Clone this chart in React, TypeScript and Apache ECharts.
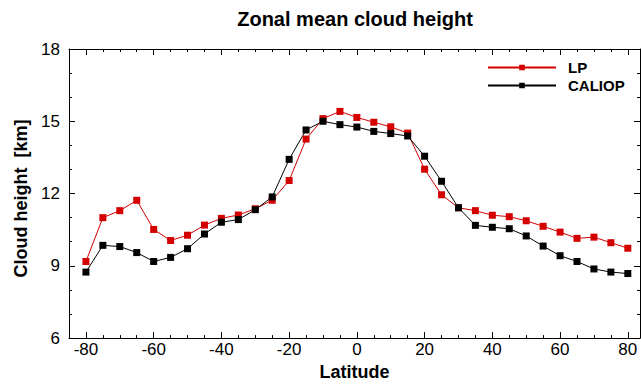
import React, { useEffect, useRef } from "react";
import * as echarts from "echarts";

const latitudes = [-80, -75, -70, -65, -60, -55, -50, -45, -40, -35, -30, -25, -20, -15, -10, -5, 0, 5, 10, 15, 20, 25, 30, 35, 40, 45, 50, 55, 60, 65, 70, 75, 80];
const lpValues = [9.18, 11.0, 11.29, 11.72, 10.51, 10.05, 10.27, 10.69, 10.97, 11.11, 11.37, 11.72, 12.54, 14.26, 15.11, 15.41, 15.16, 14.96, 14.77, 14.51, 13.01, 11.95, 11.41, 11.29, 11.1, 11.04, 10.87, 10.64, 10.4, 10.14, 10.19, 9.96, 9.73];
const caliopValues = [8.74, 9.85, 9.8, 9.55, 9.18, 9.35, 9.71, 10.32, 10.81, 10.92, 11.33, 11.86, 13.42, 14.64, 15.0, 14.86, 14.76, 14.58, 14.49, 14.39, 13.55, 12.51, 11.41, 10.68, 10.6, 10.54, 10.24, 9.82, 9.42, 9.18, 8.87, 8.74, 8.68];
const xMajorTicks = [-80, -60, -40, -20, 0, 20, 40, 60, 80];
const xMinorTicks = [-75, -70, -65, -55, -50, -45, -35, -30, -25, -15, -10, -5, 5, 10, 15, 25, 30, 35, 45, 50, 55, 65, 70, 75];

const FONT = "'Liberation Sans', Arial, sans-serif";
const X_MIN = -85;
const X_MAX = 83.6;

export default function App() {
  const ref = useRef<HTMLDivElement>(null);
  useEffect(() => {
    document.body.style.margin = "0";
    if (!ref.current) return;
    const chart = echarts.init(ref.current, undefined, { renderer: "svg" });
    const baseX = (position: string, ticks: number[], len: number, showLabel: boolean, showLine: boolean) => ({
      type: "value",
      position,
      min: X_MIN,
      max: X_MAX,
      axisLine: { show: showLine, onZero: false, lineStyle: { color: "#000", width: 1 } },
      axisTick: { show: true, inside: true, length: len, customValues: ticks, lineStyle: { color: "#000", width: 1 } },
      axisLabel: showLabel
        ? { show: true, customValues: ticks, color: "#000", fontSize: 17, fontFamily: FONT, margin: 3 }
        : { show: false },
      splitLine: { show: false },
    });
    const baseY = (position: string, showLabel: boolean) => ({
      type: "value",
      position,
      min: 6,
      max: 18,
      interval: 3,
      axisLine: { show: true, onZero: false, lineStyle: { color: "#000", width: 1 } },
      axisTick: { show: true, inside: true, length: 6, lineStyle: { color: "#000", width: 1 } },
      minorTick: { show: true, splitNumber: 3, length: 3, lineStyle: { color: "#000", width: 1 } },
      axisLabel: showLabel
        ? { show: true, color: "#000", fontSize: 17, fontFamily: FONT, margin: 9 }
        : { show: false },
      splitLine: { show: false },
    });
    const option: any = {
      animation: false,
      backgroundColor: "#fff",
      title: {
        text: "Zonal mean cloud height",
        left: 350,
        textAlign: "center",
        top: 4,
        textStyle: { fontSize: 20, fontWeight: "bold", fontFamily: FONT, color: "#000" },
      },
      legend: {
        orient: "vertical",
        left: 487,
        top: 60,
        itemWidth: 68,
        itemHeight: 7,
        itemGap: 3,
        padding: 0,
        textStyle: { fontSize: 15, fontWeight: "bold", fontFamily: FONT, color: "#000", padding: [0, 0, 0, 7] },
        data: ["LP", "CALIOP"],
      },
      grid: { left: 69, right: 1, top: 49, bottom: 42, containLabel: false },
      xAxis: [
        {
          ...baseX("bottom", xMajorTicks, 6, true, true),
          name: "Latitude",
          nameLocation: "middle",
          nameGap: 19,
          nameTextStyle: { fontSize: 18, fontWeight: "bold", fontFamily: FONT, color: "#000" },
        },
        baseX("bottom", xMinorTicks, 3, false, false),
        baseX("top", xMajorTicks, 6, false, true),
        baseX("top", xMinorTicks, 3, false, false),
      ],
      yAxis: [
        {
          ...baseY("left", true),
          name: "Cloud height  [km]",
          nameLocation: "middle",
          nameGap: 38,
          nameTextStyle: { fontSize: 18, fontWeight: "bold", fontFamily: FONT, color: "#000", padding: [0, 10, 0, 0] },
        },
        baseY("right", false),
      ],
      series: [
        {
          name: "LP",
          type: "line",
          xAxisIndex: 0,
          yAxisIndex: 0,
          data: latitudes.map((lat, i) => [lat, lpValues[i]]),
          symbol: "rect",
          symbolSize: 7,
          lineStyle: { color: "#d40000", width: 1 },
          itemStyle: { color: "#d40000" },
        },
        {
          name: "CALIOP",
          type: "line",
          xAxisIndex: 0,
          yAxisIndex: 0,
          data: latitudes.map((lat, i) => [lat, caliopValues[i]]),
          symbol: "rect",
          symbolSize: 7,
          lineStyle: { color: "#000", width: 1 },
          itemStyle: { color: "#000" },
        },
      ],
    };
    chart.setOption(option);
    return () => chart.dispose();
  }, []);
  return <div ref={ref} style={{ width: 641, height: 386 }} />;
}
